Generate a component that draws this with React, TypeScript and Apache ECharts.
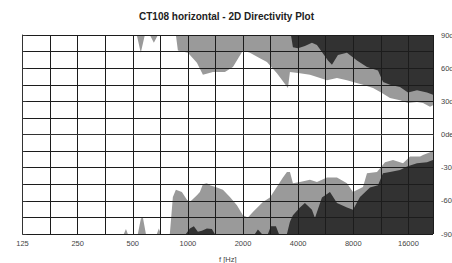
import React, { useEffect, useRef } from 'react';
import * as echarts from 'echarts';

const titleText = 'CT108 horizontal - 2D Directivity Plot';
const xAxisName = 'f [Hz]';
const baseFreq = 125;
const maxFreq = 21800;
const xTickLabels = [125, 250, 500, 1000, 2000, 4000, 8000, 16000];
const yUnit = 'deg';

const topGrayFreq = [125, 526, 553, 582, 620, 652, 686, 860, 882, 1000, 1120, 1208, 1370, 1593, 1762, 1998, 2181, 2472, 2702, 3064, 3519, 3608, 4092, 4640, 5067, 5746, 6517, 7390, 7973, 9043, 10255, 11479, 12694, 14397, 15922, 17828, 19226, 21000, 21800];
const topGrayDeg = [90, 90, 74, 90, 90, 83, 90, 90, 76, 74, 65, 54, 56.5, 56.5, 61, 76, 74, 69, 65.5, 55.5, 42, 56.5, 55.5, 54, 52, 49, 51, 49, 47.5, 45, 42, 37.5, 33, 31, 28.5, 29.5, 28.5, 25, 26.5];

const topDarkFreq = [125, 3654, 3746, 3990, 4355, 4757, 5067, 5820, 6118, 6597, 7390, 8380, 9508, 10914, 11627, 12694, 14397, 15922, 17828, 20220, 21800];
const topDarkDeg = [90, 90, 79, 78, 80, 83, 81, 67, 63, 72, 74, 67, 61, 58, 47.5, 45, 43, 38, 40, 38, 36];

const bottomGrayFreq = [125, 447, 459, 470, 533, 554, 568, 590, 677, 694, 712, 797, 828, 860, 927, 988, 1025, 1120, 1163, 1208, 1270, 1319, 1440, 1553, 1696, 1852, 1997, 2127, 2265, 2569, 2805, 3102, 3304, 3475, 3608, 3746, 4092, 4640, 5067, 5747, 6517, 7391, 7973, 9039, 9506, 10780, 11925, 13188, 14960, 16340, 18535, 19226, 21000, 21800];
const bottomGrayDeg = [-90, -90, -85.5, -90, -90, -76, -75, -90, -90, -85, -90, -90, -56.5, -50, -52, -59, -61, -55, -52, -45, -44, -46, -48, -50, -56.5, -64, -73, -75, -70, -61, -57, -46, -39, -34, -34, -44, -43, -41, -43, -39, -39, -44, -52, -47.5, -35, -34, -25, -23, -26, -20, -20, -18.5, -16, -14];

const bottomDarkFreq = [125, 975, 1025, 1078, 1134, 1193, 1270, 1352, 1404, 2323, 2412, 2537, 2735, 2840, 3025, 3142, 3475, 3608, 3746, 4092, 4356, 4757, 4941, 5396, 5968, 6517, 7391, 7973, 8705, 9869, 10915, 11622, 12694, 14397, 15725, 17828, 20220, 21800];
const bottomDarkDeg = [-90, -90, -85, -83, -88, -87, -85, -85.5, -90, -90, -86, -90, -90, -83, -83, -90, -90, -79, -73, -66, -62, -68, -75.5, -57, -52, -62, -66, -68, -56.5, -48, -46, -35, -34, -32, -29, -26, -25, -23];

const GRAY = '#9a9a9a';
const DARK = '#323232';

const toOct = (f: number) => Math.log2(f / baseFreq);
const pairs = (fr: number[], dg: number[]) => fr.map((f, i) => [toOct(f), dg[i]]);

function areaSeries(name: string, fr: number[], dg: number[], color: string, origin: 'start' | 'end', z: number) {
  return {
    name,
    type: 'line',
    data: pairs(fr, dg),
    symbol: 'none',
    showSymbol: false,
    smooth: false,
    z,
    lineStyle: { width: 0, opacity: 0 },
    areaStyle: { color, opacity: 1, origin },
    silent: true,
  };
}

export default function App() {
  const ref = useRef<HTMLDivElement>(null);
  useEffect(() => {
    if (!ref.current) return;
    const chart = echarts.init(ref.current, undefined, { renderer: 'svg' });
    const lineColor = '#1c1c1c';
    chart.setOption({
      animation: false,
      backgroundColor: '#ffffff',
      textStyle: { fontFamily: 'Liberation Sans, Arial, sans-serif' },
      title: {
        text: titleText,
        left: 139,
        top: 10,
        padding: 0,
        textStyle: { fontSize: 10, fontWeight: 'bold', color: '#222', lineHeight: 12, fontFamily: 'Liberation Sans, Arial, sans-serif' },
      },
      grid: { left: 22.5, right: 19, top: 35, bottom: 29, show: false, containLabel: false, outerBoundsMode: 'none' },
      xAxis: {
        type: 'value',
        min: 0,
        max: toOct(maxFreq),
        interval: 0.5,
        z: 5,
        name: xAxisName,
        nameLocation: 'middle',
        nameGap: 21,
        nameTextStyle: { fontSize: 7.5, color: '#444' },
        axisLine: { show: true, lineStyle: { color: '#333', width: 1 } },
        axisTick: { show: true, length: 2, lineStyle: { color: '#333' } },
        axisLabel: {
          interval: 0,
          fontSize: 7.5,
          color: '#444',
          margin: 5,
          showMinLabel: true,
          showMaxLabel: true,
          hideOverlap: false,
          formatter: (v: number) => {
            const r = Math.round(v);
            if (Math.abs(v - r) < 1e-6 && r >= 0 && r < xTickLabels.length) return String(xTickLabels[r]);
            return '';
          },
        },
        splitLine: { show: true, lineStyle: { color: lineColor, width: 1 } },
      },
      yAxis: {
        type: 'value',
        position: 'right',
        min: -90,
        max: 90,
        interval: 30,
        z: 5,
        axisLine: { show: true, lineStyle: { color: '#333', width: 1 } },
        axisTick: { show: true, length: 4, lineStyle: { color: '#333' } },
        minorTick: { show: true, splitNumber: 2, length: 2, lineStyle: { color: '#333' } },
        minorSplitLine: { show: true, lineStyle: { color: lineColor, width: 1 } },
        splitLine: { show: true, lineStyle: { color: lineColor, width: 1 } },
        axisLabel: {
          fontSize: 7.5,
          color: '#444',
          margin: 8,
          align: 'left',
          hideOverlap: false,
          formatter: (v: number) => `${v}${yUnit}`,
        },
      },
      series: [
        areaSeries('topGray', topGrayFreq, topGrayDeg, GRAY, 'end', 2),
        areaSeries('topDark', topDarkFreq, topDarkDeg, DARK, 'end', 3),
        areaSeries('bottomGray', bottomGrayFreq, bottomGrayDeg, GRAY, 'start', 2),
        areaSeries('bottomDark', bottomDarkFreq, bottomDarkDeg, DARK, 'start', 3),
      ],
    });
    return () => chart.dispose();
  }, []);
  return <div ref={ref} style={{ position: 'fixed', left: 0, top: 0, width: 452, height: 263 }} />;
}
